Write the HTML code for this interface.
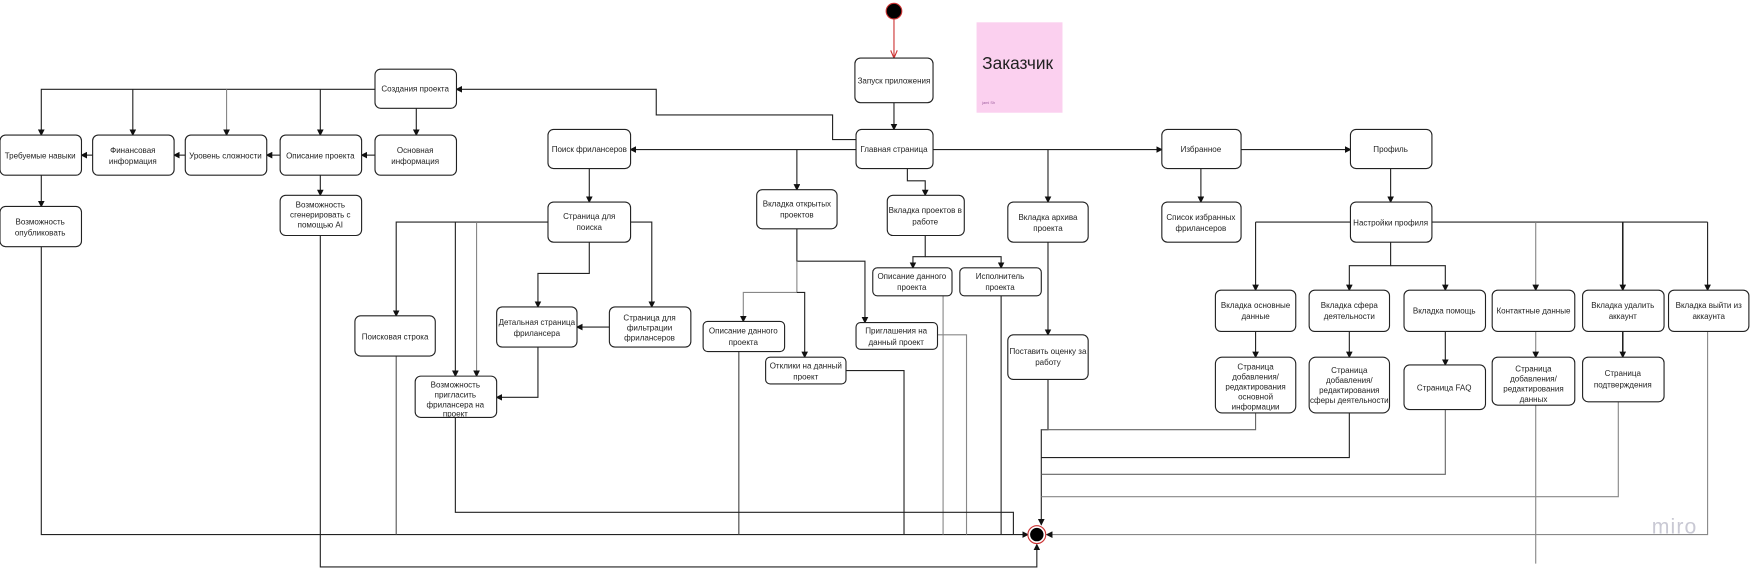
<!DOCTYPE html>
<html><head><meta charset="utf-8"><style>
html,body{margin:0;padding:0;background:#fff;width:1750px;height:571px;overflow:hidden}
svg{display:block}
text{font-family:"Liberation Sans","Noto Sans CJK SC",sans-serif;font-size:7.2px;fill:#222}
</style></head><body>
<svg width="1750" height="571" viewBox="0 0 1568 511.6" preserveAspectRatio="none" xmlns="http://www.w3.org/2000/svg">
<defs>
<marker id="a" markerWidth="6" markerHeight="6" refX="5" refY="3" orient="auto" markerUnits="userSpaceOnUse"><path d="M0,0 L6,3 L0,6 z" fill="#111"/></marker>
<marker id="r" markerWidth="8" markerHeight="6" refX="7" refY="3" orient="auto" markerUnits="userSpaceOnUse"><path d="M0,0 L7,3 L0,6" fill="none" stroke="#c33" stroke-width="1"/></marker>
</defs>
<g fill="none" stroke="#222" stroke-width="1">
<line x1="801" y1="17" x2="801" y2="52" stroke="#c33" marker-end="url(#r)"/>
<line x1="801" y1="92" x2="801" y2="116" marker-end="url(#a)"/>
<polyline points="767,125 746,125 746,103 588,103 588,80 409,80" marker-end="url(#a)"/>
<polyline points="336,80 37,80 37,121" marker-end="url(#a)"/>
<line x1="119" y1="80" x2="119" y2="121" marker-end="url(#a)"/>
<line x1="203" y1="80" x2="203" y2="121" stroke="#888" marker-end="url(#a)"/>
<line x1="287" y1="80" x2="287" y2="121" marker-end="url(#a)"/>
<line x1="373" y1="97" x2="373" y2="121" marker-end="url(#a)"/>
<line x1="336" y1="139" x2="324" y2="139" marker-end="url(#a)"/>
<line x1="251" y1="139" x2="239" y2="139" marker-end="url(#a)"/>
<line x1="166" y1="139" x2="156" y2="139" marker-end="url(#a)"/>
<line x1="83" y1="139" x2="73" y2="139" marker-end="url(#a)"/>
<line x1="37" y1="157" x2="37" y2="185" marker-end="url(#a)"/>
<line x1="287" y1="157" x2="287" y2="175" marker-end="url(#a)"/>
<line x1="767" y1="134" x2="565" y2="134" marker-end="url(#a)"/>
<line x1="836" y1="134" x2="1041" y2="134" marker-end="url(#a)"/>
<line x1="714" y1="134" x2="714" y2="170" marker-end="url(#a)"/>
<line x1="939" y1="134" x2="939" y2="181" marker-end="url(#a)"/>
<polyline points="813,151 813,162 829,162 829,175" marker-end="url(#a)"/>
<line x1="1112" y1="134" x2="1210" y2="134" marker-end="url(#a)"/>
<line x1="1076" y1="151" x2="1076" y2="181" marker-end="url(#a)"/>
<line x1="1246" y1="151" x2="1246" y2="181" marker-end="url(#a)"/>
<line x1="528" y1="151" x2="528" y2="181" marker-end="url(#a)"/>
<polyline points="491,199 355,199 355,283" marker-end="url(#a)"/>
<line x1="408" y1="199" x2="408" y2="337" marker-end="url(#a)"/>
<line x1="427" y1="199" x2="427" y2="337" stroke="#888" marker-end="url(#a)"/>
<polyline points="528,217 528,245 482,245 482,275" marker-end="url(#a)"/>
<polyline points="565,199 584,199 584,275" marker-end="url(#a)"/>
<line x1="546" y1="293" x2="517" y2="293" marker-end="url(#a)"/>
<polyline points="482,311 482,356 445,356" marker-end="url(#a)"/>
<polyline points="714,205 714,234 775,234 775,289" marker-end="url(#a)"/>
<polyline points="714,234 714,262 666,262 666,288" stroke="#888" marker-end="url(#a)"/>
<polyline points="714,262 721,262 721,320" marker-end="url(#a)"/>
<polyline points="829,211 829,230 818,230 818,240" marker-end="url(#a)"/>
<polyline points="829,230 897,230 897,240" marker-end="url(#a)"/>
<line x1="939" y1="217" x2="939" y2="300" marker-end="url(#a)"/>
<line x1="1125" y1="199" x2="1530" y2="199"/>
<line x1="1125" y1="199" x2="1125" y2="260" marker-end="url(#a)"/>
<line x1="1376" y1="199" x2="1376" y2="260" stroke="#888" marker-end="url(#a)"/>
<line x1="1454" y1="199" x2="1454" y2="260" stroke-width="1.4" marker-end="url(#a)"/>
<line x1="1530" y1="199" x2="1530" y2="260" marker-end="url(#a)"/>
<polyline points="1246,217 1246,238 1209,238 1209,260" marker-end="url(#a)"/>
<polyline points="1246,238 1295,238 1295,260" marker-end="url(#a)"/>
<line x1="1125" y1="297" x2="1125" y2="320" marker-end="url(#a)"/>
<line x1="1209" y1="297" x2="1209" y2="320" marker-end="url(#a)"/>
<line x1="1295" y1="297" x2="1295" y2="327" marker-end="url(#a)"/>
<line x1="1376" y1="297" x2="1376" y2="320" stroke="#888" marker-end="url(#a)"/>
<line x1="1454" y1="297" x2="1454" y2="320" stroke-width="1.4" marker-end="url(#a)"/>
<polyline points="939,340 939,385 933,385 933,470" marker-end="url(#a)"/>
<polyline points="1125,370 1125,385 933,385" stroke="#666"/>
<polyline points="1209,370 1209,410 933,410"/>
<polyline points="1295,367 1295,425 933,425" stroke="#666"/>
<polyline points="1450,360 1450,445 933,445" stroke="#888"/>
<line x1="1376" y1="363" x2="1376" y2="505" stroke="#888"/>
<polyline points="1530,297 1530,479 938,479" stroke="#888" marker-end="url(#a)"/>
<polyline points="37,221 37,479 921,479" marker-end="url(#a)"/>
<line x1="355" y1="319" x2="355" y2="479" stroke="#555"/>
<line x1="662" y1="315" x2="662" y2="479" stroke="#444"/>
<polyline points="758,332 810,332 810,479"/>
<polyline points="840,300 866,300 866,479" stroke="#888"/>
<line x1="845" y1="265" x2="845" y2="479" stroke="#888"/>
<line x1="897" y1="265" x2="897" y2="479"/>
<polyline points="408,374 408,459 908,459 908,479"/>
<polyline points="287,211 287,508 929,508 929,488" marker-end="url(#a)"/>
</g>
<circle cx="801" cy="10" r="7" fill="#000" stroke="#c33" stroke-width="1"/>
<circle cx="929" cy="479" r="8" fill="#fff" stroke="#c33" stroke-width="1"/>
<circle cx="929" cy="479" r="6" fill="#000"/>
<rect x="875" y="20" width="77" height="81" fill="#fbd0ef"/>
<text x="880" y="62" style="font-size:15.5px">Заказчик</text>
<text x="880" y="93" style="font-size:3.5px;fill:#a060a0">jami Sh</text>
<text x="1480" y="478" style="font-size:19px;fill:#c9c9d4;letter-spacing:1px">miro</text>
<g fill="#fff" stroke="#222" stroke-width="1">
<rect x="766" y="52" width="70" height="40" rx="5"/>
<rect x="767" y="116" width="69" height="35" rx="5"/>
<rect x="336" y="62" width="73" height="35" rx="5"/>
<rect x="336" y="121" width="73" height="36" rx="5"/>
<rect x="251" y="121" width="73" height="36" rx="5"/>
<rect x="166" y="121" width="73" height="36" rx="5"/>
<rect x="83" y="121" width="73" height="36" rx="5"/>
<rect x="0" y="121" width="73" height="36" rx="5"/>
<rect x="0" y="185" width="73" height="36" rx="5"/>
<rect x="251" y="175" width="73" height="36" rx="5"/>
<rect x="491" y="116" width="74" height="35" rx="5"/>
<rect x="491" y="181" width="74" height="36" rx="5"/>
<rect x="678" y="170" width="72" height="35" rx="5"/>
<rect x="795" y="175" width="69" height="36" rx="5"/>
<rect x="903" y="181" width="72" height="36" rx="5"/>
<rect x="1041" y="116" width="71" height="35" rx="5"/>
<rect x="1210" y="116" width="73" height="35" rx="5"/>
<rect x="1041" y="181" width="71" height="36" rx="5"/>
<rect x="1210" y="181" width="73" height="36" rx="5"/>
<rect x="318" y="283" width="72" height="36" rx="5"/>
<rect x="445" y="275" width="72" height="36" rx="5"/>
<rect x="546" y="275" width="73" height="36" rx="5"/>
<rect x="372" y="337" width="73" height="37" rx="5"/>
<rect x="630" y="288" width="73" height="27" rx="4"/>
<rect x="686" y="320" width="72" height="24" rx="4"/>
<rect x="767" y="289" width="73" height="24" rx="4"/>
<rect x="782" y="240" width="71" height="25" rx="4"/>
<rect x="860" y="240" width="73" height="25" rx="4"/>
<rect x="903" y="300" width="72" height="40" rx="5"/>
<rect x="1089" y="260" width="72" height="37" rx="5"/>
<rect x="1173" y="260" width="72" height="37" rx="5"/>
<rect x="1258" y="260" width="73" height="37" rx="5"/>
<rect x="1337" y="260" width="74" height="37" rx="5"/>
<rect x="1418" y="260" width="73" height="37" rx="5"/>
<rect x="1495" y="260" width="72" height="37" rx="5"/>
<rect x="1089" y="320" width="72" height="50" rx="6"/>
<rect x="1173" y="320" width="72" height="50" rx="6"/>
<rect x="1258" y="327" width="73" height="40" rx="5"/>
<rect x="1337" y="320" width="74" height="43" rx="5"/>
<rect x="1418" y="320" width="73" height="40" rx="5"/>
</g>
<g text-anchor="middle">
<text x="801" y="75">Запуск приложения</text>
<text x="801" y="136">Главная страница</text>
<text x="372" y="82">Создания проекта</text>
<text x="372" y="137">Основная</text><text x="372" y="147">информация</text>
<text x="287" y="142">Описание проекта</text>
<text x="202" y="142">Уровень сложности</text>
<text x="119" y="137">Финансовая</text><text x="119" y="147">информация</text>
<text x="36" y="142">Требуемые навыки</text>
<text x="36" y="201">Возможность</text><text x="36" y="211">опубликовать</text>
<text x="287" y="186">Возможность</text><text x="287" y="195">сгенерировать с</text><text x="287" y="204">помощью AI</text>
<text x="528" y="136">Поиск фрилансеров</text>
<text x="528" y="196">Страница для</text><text x="528" y="206">поиска</text>
<text x="714" y="185">Вкладка открытых</text><text x="714" y="195">проектов</text>
<text x="829" y="191">Вкладка проектов в</text><text x="829" y="201">работе</text>
<text x="939" y="197">Вкладка архива</text><text x="939" y="207">проекта</text>
<text x="1076" y="136">Избранное</text>
<text x="1246" y="136">Профиль</text>
<text x="1076" y="197">Список избранных</text><text x="1076" y="207">фрилансеров</text>
<text x="1246" y="202">Настройки профиля</text>
<text x="354" y="304">Поисковая строка</text>
<text x="481" y="291">Детальная страница</text><text x="481" y="301">фрилансера</text>
<text x="582" y="287">Страница для</text><text x="582" y="296">фильтрации</text><text x="582" y="305">фрилансеров</text>
<text x="408" y="347">Возможность</text><text x="408" y="356">пригласить</text><text x="408" y="365">фрилансера на</text><text x="408" y="373">проект</text>
<text x="666" y="299">Описание данного</text><text x="666" y="309">проекта</text>
<text x="722" y="330">Отклики на данный</text><text x="722" y="340">проект</text>
<text x="803" y="299">Приглашения на</text><text x="803" y="309">данный проект</text>
<text x="817" y="250">Описание данного</text><text x="817" y="260">проекта</text>
<text x="896" y="250">Исполнитель</text><text x="896" y="260">проекта</text>
<text x="939" y="317">Поставить оценку за</text><text x="939" y="327">работу</text>
<text x="1125" y="276">Вкладка основные</text><text x="1125" y="286">данные</text>
<text x="1209" y="276">Вкладка сфера</text><text x="1209" y="286">деятельности</text>
<text x="1294" y="281">Вкладка помощь</text>
<text x="1374" y="281">Контактные данные</text>
<text x="1454" y="276">Вкладка удалить</text><text x="1454" y="286">аккаунт</text>
<text x="1531" y="276">Вкладка выйти из</text><text x="1531" y="286">аккаунта</text>
<text x="1125" y="331">Страница</text><text x="1125" y="340">добавления/</text><text x="1125" y="349">редактирования</text><text x="1125" y="358">основной</text><text x="1125" y="367">информации</text>
<text x="1209" y="334">Страница</text><text x="1209" y="343">добавления/</text><text x="1209" y="352">редактирования</text><text x="1209" y="361">сферы деятельности</text>
<text x="1294" y="350">Страница FAQ</text>
<text x="1374" y="333">Страница</text><text x="1374" y="342">добавления/</text><text x="1374" y="351">редактирования</text><text x="1374" y="360">данных</text>
<text x="1454" y="337">Страница</text><text x="1454" y="347">подтверждения</text>
</g>
</svg>
</body></html>
